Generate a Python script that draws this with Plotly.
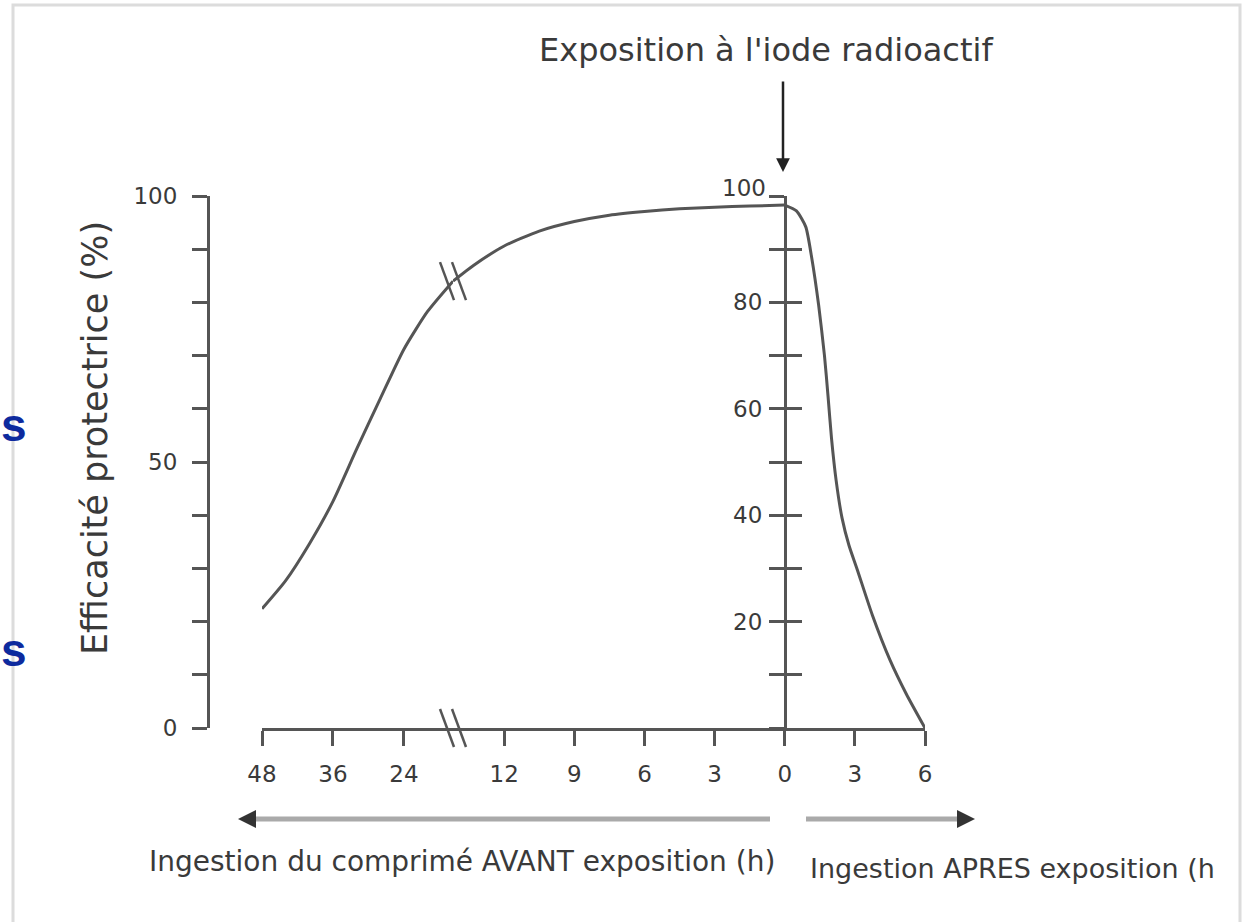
import plotly.graph_objects as go

# ---------------- data ----------------
# left part of the broken axis: hours before exposure (48 h .. break)
hours_before_far = [48, 44, 40, 36, 32, 28, 24, 20, 15.7]
eff_before_far = [22.4, 27.7, 34.6, 42.6, 52.4, 61.9, 71.2, 78.3, 84.0]

# right part of the broken axis: hours before exposure (negative) up to 0
hours_before_near = [-14.19, -13.3, -12, -10.5, -9, -7.5, -6, -4.5, -3, -1.5, 0]
eff_before_near = [84.0, 87.0, 90.6, 93.4, 95.2, 96.4, 97.1, 97.6, 97.9, 98.1, 98.3]

# hours after exposure
hours_after = [0, 0.5, 0.9, 1.15, 1.45, 1.7, 1.85, 2.0, 2.2, 2.45, 2.75, 3.1, 3.75, 4.5, 5.2, 6.0]
eff_after = [98.3, 97.2, 94.2, 88.5, 79.5, 70.0, 62.5, 54.5, 46.5, 39.5, 34.3, 29.8, 21.2, 12.8, 6.4, 0.0]

far_tick_vals = [48, 36, 24]
far_tick_text = ["48", "36", "24"]
near_tick_vals = [-12, -9, -6, -3, 0, 3, 6]
near_tick_text = ["12", "9", "6", "3", "0", "3", "6"]

eff_ticks = [0, 10, 20, 30, 40, 50, 60, 70, 80, 90, 100]
left_tick_text = ["0", "", "", "", "", "50", "", "", "", "", "100"]
right_tick_text = ["", "", "20", "", "40", "", "60", "", "80", "", ""]

title_text = "Exposition à l'iode radioactif"
ytitle_text = "Efficacité protectrice (%)"
before_text = "Ingestion du comprimé AVANT exposition (h)"
after_text = "Ingestion APRES exposition (h"

# ---------------- layout helpers ----------------
W, H = 1251, 922
def px(x):
    return x / W
def py(y):
    return 1 - y / H

Y_TOP, Y_BOT = 196, 728          # pixel rows of 100 % and 0 %
X_LEFT, X_BREAK, X_RIGHT = 262, 453, 925
X_YAXIS, X_MID = 208, 785
AX = "#555555"
TXT = "#3a3a3a"
FONT = "DejaVu Sans"

def val_to_py(v):
    return Y_BOT - (Y_BOT - Y_TOP) * v / 100.0

fig = go.Figure()
line_style = dict(color=AX, width=3, shape="spline", smoothing=0.6)
fig.add_trace(go.Scatter(x=hours_before_far, y=eff_before_far, mode="lines",
                         line=line_style, xaxis="x", yaxis="y", hoverinfo="skip"))
fig.add_trace(go.Scatter(x=hours_before_near, y=eff_before_near, mode="lines",
                         line=line_style, xaxis="x2", yaxis="y3", hoverinfo="skip"))
fig.add_trace(go.Scatter(x=hours_after, y=eff_after, mode="lines",
                         line=line_style, xaxis="x2", yaxis="y2", hoverinfo="skip"))

tickfont = dict(family=FONT, size=23, color="#3a3a3a")
common_x = dict(showline=True, linecolor=AX, linewidth=3, ticks="outside", ticklen=15,
                tickwidth=3, tickcolor=AX, showgrid=False, zeroline=False,
                tickfont=tickfont, ticklabelstandoff=8, anchor="y", fixedrange=True,
                automargin=False)
common_y = dict(domain=[py(Y_BOT), py(Y_TOP)], range=[0, 100], showline=True,
                linecolor=AX, linewidth=3, tickcolor=AX, tickwidth=3, ticklen=15,
                showgrid=False, zeroline=False, tickmode="array", tickvals=eff_ticks,
                tickfont=tickfont, anchor="free", fixedrange=True, automargin=False)

fig.update_layout(
    width=W, height=H,
    margin=dict(l=0, r=0, t=0, b=0, pad=0, autoexpand=False),
    paper_bgcolor="white", plot_bgcolor="rgba(0,0,0,0)",
    showlegend=False,
    xaxis=dict(domain=[px(X_LEFT), px(X_BREAK)], range=[48, 15.7], tickmode="array",
               tickvals=far_tick_vals, ticktext=far_tick_text, **common_x),
    xaxis2=dict(domain=[px(X_BREAK), px(X_RIGHT)], range=[-14.19, 6.0], tickmode="array",
                tickvals=near_tick_vals, ticktext=near_tick_text, **common_x),
    yaxis=dict(position=px(X_YAXIS), ticks="outside", ticktext=left_tick_text,
               ticklabelstandoff=10, **common_y),
    yaxis2=dict(position=px(X_MID), overlaying="y", ticks="outside",
                ticktext=right_tick_text, ticklabelstandoff=2, **common_y),
    yaxis3=dict(position=px(X_MID), overlaying="y", ticks="inside",
                showticklabels=False, **common_y),
)

ann = []
ann.append(dict(text=title_text, x=px(766), y=py(50), xref="paper", yref="paper",
                showarrow=False, font=dict(family=FONT, size=32, color=TXT),
                xanchor="center", yanchor="middle"))
# arrow pointing to the moment of exposure
ann.append(dict(text="", x=px(783), y=py(172), xref="paper", yref="paper",
                showarrow=True, ax=0, ay=-92, arrowhead=2, arrowsize=1.1,
                arrowwidth=2.5, arrowcolor="#222222"))
ann.append(dict(text=ytitle_text, x=px(95), y=py(438), xref="paper", yref="paper",
                showarrow=False, textangle=-90, font=dict(family=FONT, size=35, color=TXT),
                xanchor="center", yanchor="middle"))
ann.append(dict(text="100", x=px(768), y=py(188), xref="paper", yref="paper",
                showarrow=False, font=tickfont, xanchor="right", yanchor="middle"))
ann.append(dict(text=before_text, x=px(147), y=py(861), xref="paper", yref="paper",
                showarrow=False, font=dict(family=FONT, size=28, color=TXT),
                xanchor="left", yanchor="middle"))
ann.append(dict(text=after_text, x=px(808), y=py(868), xref="paper", yref="paper",
                showarrow=False, font=dict(family=FONT, size=27, color=TXT),
                xanchor="left", yanchor="middle"))
# arrow heads of the time arrows
ann.append(dict(text="", x=px(238), y=py(819), xref="paper", yref="paper",
                showarrow=True, ax=14, ay=0, arrowhead=2, arrowsize=1.2,
                arrowwidth=3, arrowcolor="#333333"))
ann.append(dict(text="", x=px(975), y=py(819), xref="paper", yref="paper",
                showarrow=True, ax=-14, ay=0, arrowhead=2, arrowsize=1.2,
                arrowwidth=3, arrowcolor="#333333"))
# fragments of slide text on the left edge
for yy in (425, 650):
    ann.append(dict(text="<b>s</b>", x=px(0), y=py(yy), xref="paper", yref="paper",
                    showarrow=False, font=dict(family="Liberation Sans", size=46, color="#0d2a9e"),
                    xanchor="left", yanchor="middle", borderpad=0))
fig.update_layout(annotations=ann)

shapes = []
# time arrow shafts
shapes.append(dict(type="line", xref="paper", yref="paper", x0=px(245), x1=px(770),
                   y0=py(819), y1=py(819), line=dict(color="#aaaaaa", width=5)))
shapes.append(dict(type="line", xref="paper", yref="paper", x0=px(806), x1=px(968),
                   y0=py(819), y1=py(819), line=dict(color="#aaaaaa", width=5)))
# axis-break marks on the x axis and on the curve
for cy in (Y_BOT, val_to_py(eff_before_far[-1])):
    for dx in (-6, 6):
        shapes.append(dict(type="line", xref="paper", yref="paper",
                           x0=px(X_BREAK + dx - 7), y0=py(cy - 19),
                           x1=px(X_BREAK + dx + 7), y1=py(cy + 19),
                           line=dict(color=AX, width=2.5)))
# light frame of the picture
shapes.append(dict(type="rect", xref="paper", yref="paper", x0=px(13), x1=px(1240),
                   y0=py(925), y1=py(5), line=dict(color="#dcdcdc", width=3)))
fig.update_layout(shapes=shapes)

fig.write_html("out.html", config={"displayModeBar": False},
               post_script="document.body.style.margin='0';")
